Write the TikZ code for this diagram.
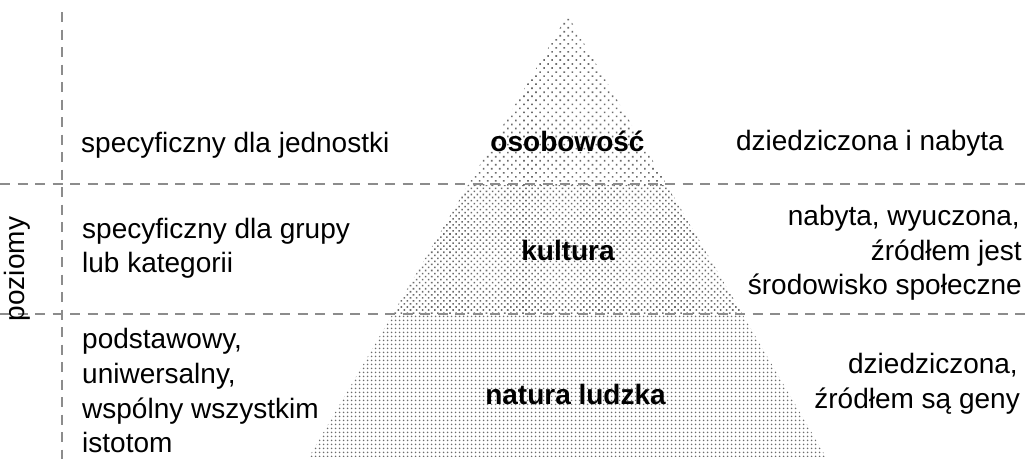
\documentclass[tikz,border=0pt]{standalone}
\usepackage{fontspec}
\setmainfont{Liberation Sans}
\usetikzlibrary{patterns.meta}
\tikzset{
  guide/.style={draw=gray!90, line width=2pt, dash pattern=on 10pt off 7.5pt},
  txt/.style={inner sep=0pt, font=\fontsize{28}{34.6}\selectfont},
  btxt/.style={inner sep=0pt, font=\fontsize{28}{34.6}\selectfont\bfseries},
}
\begin{document}
\begin{tikzpicture}[x=1pt,y=-1pt]
\useasboundingbox (0,0) rectangle (1029,459);
% pyramid
\coordinate (apex) at (567.5,15);
\coordinate (bl) at (309,457);
\coordinate (br) at (826,457);
\begin{scope}
\clip (apex) -- (br) -- (bl) -- cycle;
\fill[pattern={Dots[radius=1.15pt, distance=5.7pt, angle=45]}, pattern color=gray!85!black] (300,0) rectangle (840,185);
\fill[pattern={Dots[radius=1.1pt, distance=4.3pt, angle=45]}, pattern color=gray!85!black] (300,185) rectangle (840,314);
\fill[pattern={Dots[radius=1.1pt, distance=4pt]}, pattern color=gray!85!black] (300,314) rectangle (840,460);
\end{scope}
% guides
\coordinate (h1a) at (0,184);
\coordinate (h1b) at (1029,184);
\coordinate (h2a) at (0,314);
\coordinate (h2b) at (1029,314);
\coordinate (va) at (62,12);
\coordinate (vb) at (62,459);
\draw[guide] (h1a) -- (h1b);
\draw[guide] (h2a) -- (h2b);
\draw[guide] (va) -- (vb);
% axis label
\node[txt, rotate=90] (poziomy) at (17,269) {poziomy};
% row 1
\node[txt, anchor=base west] (l1) at (81,152) {specyficzny dla jednostki};
\node[btxt, anchor=base] (c1) at (567.5,151) {osobowość};
\node[txt, anchor=base east] (r1) at (1004,150) {dziedziczona i nabyta};
% row 2
\node[txt, anchor=base west] (l2a) at (82,238) {specyficzny dla grupy};
\node[txt, anchor=base west] (l2b) at (82,272) {lub kategorii};
\node[btxt, anchor=base] (c2) at (568,260) {kultura};
\node[txt, anchor=base east] (r2a) at (1020,225) {nabyta, wyuczona,};
\node[txt, anchor=base east] (r2b) at (1022,260) {źródłem jest};
\node[txt, anchor=base east] (r2c) at (1022,294) {środowisko społeczne};
% row 3
\node[txt, anchor=base west] (l3a) at (82,348) {podstawowy,};
\node[txt, anchor=base west] (l3b) at (82,383) {uniwersalny,};
\node[txt, anchor=base west] (l3c) at (82,418) {wspólny wszystkim};
\node[txt, anchor=base west] (l3d) at (82,452) {istotom};
\node[btxt, anchor=base] (c3) at (575.5,404) {natura ludzka};
\node[txt, anchor=base east] (r3a) at (1018,373) {dziedziczona,};
\node[txt, anchor=base east] (r3b) at (1020,408) {źródłem są geny};
\end{tikzpicture}
\end{document}
